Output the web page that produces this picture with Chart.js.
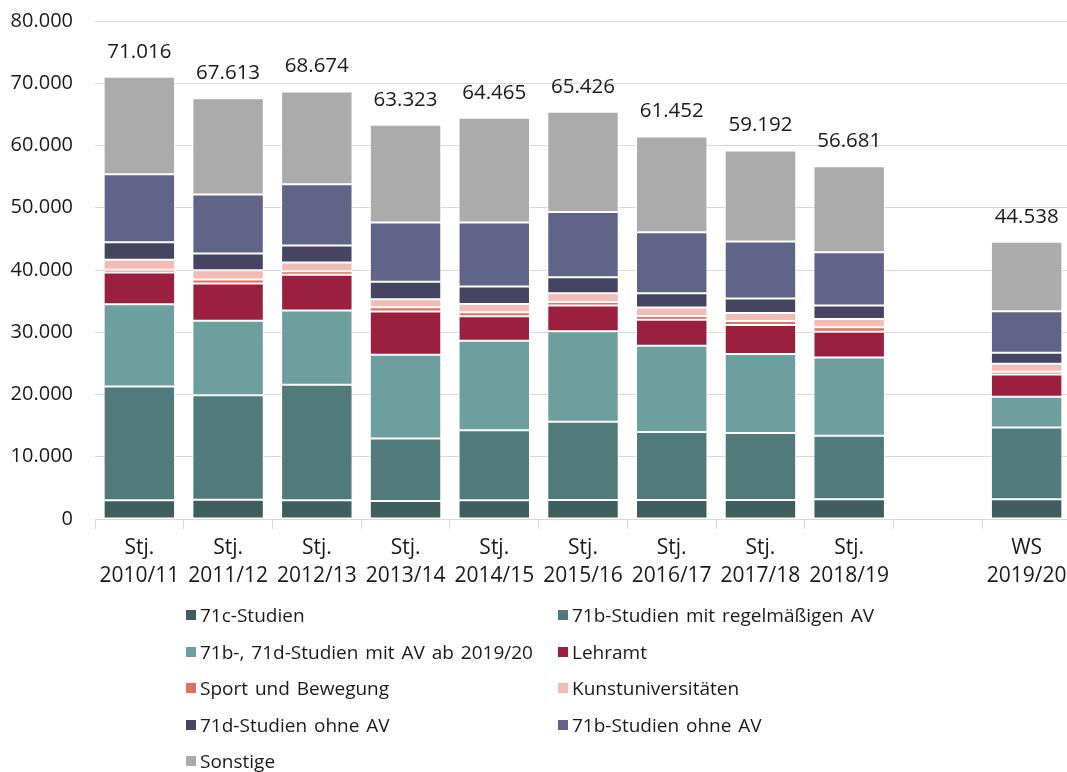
<!DOCTYPE html>
<html>
<head>
<meta charset="utf-8">
<script src="https://cdn.jsdelivr.net/npm/chart.js@4.4.1/dist/chart.umd.min.js"></script>
<style>
  html, body { margin: 0; padding: 0; background: #fff; overflow: hidden; }
  #wrap { position: absolute; left: 0; top: 0; width: 1075px; height: 603px; }
  #legend { position: absolute; left: 186px; top: 597px; display: grid;
    grid-template-columns: 372px 372px; grid-auto-rows: 36.5px;
    font-family: "Open Sans", sans-serif; font-size: 19px; word-spacing: 2px; color: #1a1a1a; }
  .item { display: flex; align-items: center; white-space: nowrap; }
  .sw { width: 10px; height: 10px; margin-right: 4px; flex: none; }
</style>
</head>
<body>
<div id="wrap"><canvas id="c"></canvas></div>
<div id="legend"></div>
<script>
const categories = [
  ['Stj.', '2010/11'], ['Stj.', '2011/12'], ['Stj.', '2012/13'], ['Stj.', '2013/14'],
  ['Stj.', '2014/15'], ['Stj.', '2015/16'], ['Stj.', '2016/17'], ['Stj.', '2017/18'],
  ['Stj.', '2018/19'], '', ['WS', '2019/20']
];
const totals = [71016, 67613, 68674, 63323, 64465, 65426, 61452, 59192, 56681, null, 44538];
const totalLabels = ['71.016', '67.613', '68.674', '63.323', '64.465', '65.426', '61.452', '59.192', '56.681', '', '44.538'];

const s71c        = [3000, 3100, 3000, 2900, 3000, 3060, 3060, 3060, 3170, null, 3170];
const s71bReg     = [18300, 16800, 18570, 10030, 11270, 12550, 10940, 10780, 10190, null, 11530];
const s71bdAV     = [13200, 11960, 11910, 13470, 14380, 14540, 13850, 12670, 12600, null, 4940];
const lehramt     = [5100, 5960, 5750, 6920, 3920, 4140, 4180, 4670, 4140, null, 3590];
const sport       = [450, 640, 580, 690, 640, 590, 590, 640, 690, null, 430];
const kunst       = [1600, 1500, 1400, 1290, 1350, 1390, 1340, 1290, 1350, null, 1290];
const s71dOhne    = [2800, 2690, 2730, 2800, 2780, 2570, 2310, 2300, 2150, null, 1770];
const s71bOhne    = [10950, 9490, 9820, 9550, 10310, 10460, 9810, 9180, 8580, null, 6650];
const sonstige    = [15650, 15460, 14910, 15670, 16810, 16130, 15370, 14600, 13810, null, 11170];

const seriesNames = ['71c-Studien', '71b-Studien mit regelmäßigen AV', '71b-, 71d-Studien mit AV ab 2019/20',
  'Lehramt', 'Sport und Bewegung', 'Kunstuniversitäten', '71d-Studien ohne AV', '71b-Studien ohne AV', 'Sonstige'];
const seriesData = [s71c, s71bReg, s71bdAV, lehramt, sport, kunst, s71dOhne, s71bOhne, sonstige];
const seriesColors = ['#3e5e60', '#517b7b', '#6e9f9f', '#9b2040', '#e2705f', '#f2bcb5', '#454562', '#616489', '#ababab'];

const FONT = '"Open Sans", sans-serif';
const TXT = '#1a1a1a';

const totalsPlugin = {
  id: 'totals',
  afterDatasetsDraw(chart) {
    const ctx = chart.ctx;
    const last = chart.getDatasetMeta(chart.data.datasets.length - 1);
    ctx.save();
    ctx.font = '20.5px ' + FONT;
    ctx.fillStyle = TXT;
    ctx.textAlign = 'center';
    ctx.textBaseline = 'middle';
    last.data.forEach((bar, i) => {
      if (totals[i] == null) return;
      const top = chart.scales.y.getPixelForValue(totals[i]);
      ctx.fillText(totalLabels[i], bar.x, top - 25);
    });
    ctx.restore();
  }
};

const chart = new Chart(document.getElementById('c'), {
  type: 'bar',
  data: {
    labels: categories,
    datasets: seriesNames.map((n, i) => ({
      label: n,
      data: seriesData[i],
      backgroundColor: seriesColors[i],
      borderColor: 'rgba(255,255,255,0.95)',
      borderWidth: 1,
      borderSkipped: false,
      barPercentage: 0.805,
      categoryPercentage: 1.0
    }))
  },
  options: {
    responsive: true,
    maintainAspectRatio: false,
    animation: false,
    layout: { padding: { left: 0, right: 4, top: 21, bottom: 8 } },
    plugins: { legend: { display: false }, tooltip: { enabled: false } },
    scales: {
      x: {
        stacked: true,
        grid: { display: true, drawOnChartArea: false, drawTicks: true, tickLength: 10, color: '#d9d9d9', offset: true },
        border: { display: true, color: '#d9d9d9' },
        ticks: { color: TXT, font: { family: FONT, size: 21, lineHeight: 1.38 }, padding: 4, maxRotation: 0, autoSkip: false }
      },
      y: {
        stacked: true,
        min: 0, max: 80000,
        afterFit: s => { s.width = 95; },
        grid: { color: '#d9d9d9', drawTicks: true, tickLength: 22, tickColor: 'rgba(0,0,0,0)' },
        border: { display: false },
        ticks: {
          stepSize: 10000, color: TXT, padding: 0,
          font: { family: FONT, size: 20 },
          callback: v => v === 0 ? '0' : (v / 1000).toFixed(0) + '.000'
        }
      }
    }
  },
  plugins: [totalsPlugin]
});

const lg = document.getElementById('legend');
chart.data.datasets.forEach(ds => {
  const d = document.createElement('div');
  d.className = 'item';
  const sw = document.createElement('span');
  sw.className = 'sw';
  sw.style.background = ds.backgroundColor;
  const t = document.createElement('span');
  t.textContent = ds.label;
  d.appendChild(sw); d.appendChild(t);
  lg.appendChild(d);
});
</script>
</body>
</html>
